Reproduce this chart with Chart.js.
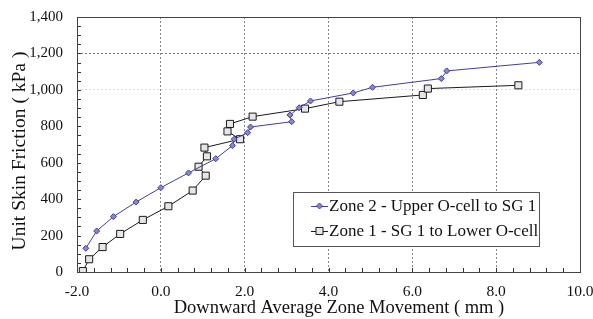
<!DOCTYPE html>
<html>
<head>
<meta charset="utf-8">
<script src="https://cdn.jsdelivr.net/npm/chart.js@4.4.1/dist/chart.umd.min.js"></script>
<style>
  html, body { margin: 0; padding: 0; background: #fff; }
  #wrap { position: relative; width: 593px; height: 319px; }
</style>
</head>
<body>
<div id="wrap"><canvas id="chart" width="593" height="319"></canvas></div>
<script>
// data
const zone2X = [-1.79, -1.53, -1.13, -0.59, 0.0, 0.66, 1.31, 1.71, 1.75, 2.07, 2.14, 3.12, 3.08, 3.30, 3.57, 4.59, 5.05, 6.69, 6.82, 9.03];
const zone2Y = [130, 225, 304, 384, 463, 544, 622, 694, 729, 765, 796, 825, 862, 902, 939, 983, 1014, 1062, 1104, 1151];
const zone1X = [-1.86, -1.71, -1.39, -0.97, -0.43, 0.18, 0.76, 1.07, 0.90, 1.10, 1.04, 1.89, 1.59, 1.65, 2.19, 3.44, 4.26, 6.25, 6.37, 8.53];
const zone1Y = [5, 70, 137, 209, 286, 361, 447, 529, 578, 635, 683, 729, 772, 813, 853, 897, 935, 972, 1007, 1025];
const seriesNames = ['Zone 2 - Upper O-cell to SG 1', 'Zone 1 - SG 1 to Lower O-cell'];
const xTicks = [-2, 0, 2, 4, 6, 8, 10];
const yTicks = [0, 200, 400, 600, 800, 1000, 1200, 1400];
const xTitle = 'Downward Average Zone Movement ( mm )';
const yTitle = 'Unit Skin Friction ( kPa )';

const FONT = '"Liberation Serif", "Times New Roman", serif';
const xMinorStep = 0.4;
const yMinorStep = 50;

function toPoints(xs, ys) {
    return xs.map((v, i) => ({ x: v, y: ys[i] }));
}

// frame, minor ticks, axis titles, legend box
const decorPlugin = {
    id: 'decor',
    beforeDatasetsDraw(chart) {
        const { ctx, chartArea: a, scales: { x, y } } = chart;
        ctx.save();
        ctx.strokeStyle = '#333';
        ctx.lineWidth = 1;
        ctx.beginPath();
        for (let v = x.min; v <= x.max + 1e-6; v += xMinorStep) {
            const px = Math.round(x.getPixelForValue(v)) + 0.5;
            ctx.moveTo(px, a.bottom);
            ctx.lineTo(px, a.bottom - 4);
        }
        for (let v = y.min; v <= y.max + 1e-6; v += yMinorStep) {
            const py = Math.round(y.getPixelForValue(v)) + 0.5;
            ctx.moveTo(a.left, py);
            ctx.lineTo(a.left + 4, py);
        }
        ctx.stroke();
        ctx.strokeStyle = '#444';
        ctx.strokeRect(Math.round(a.left) + 0.5, Math.round(a.top) + 0.5,
            Math.round(a.right - a.left), Math.round(a.bottom - a.top));

        // axis titles are a little off the plot centre in the original
        ctx.fillStyle = '#111';
        ctx.font = '18.5px ' + FONT;
        ctx.textAlign = 'center';
        ctx.textBaseline = 'alphabetic';
        ctx.fillText(xTitle, 339, 313);

        ctx.font = '19.5px ' + FONT;
        ctx.translate(25, 151);
        ctx.rotate(-Math.PI / 2);
        ctx.fillText(yTitle, 0, 0);
        ctx.restore();
    },
    afterDatasetsDraw(chart) {
        const { ctx } = chart;
        const box = { x: 293, y: 192, w: 246, h: 54 };
        ctx.save();
        ctx.fillStyle = '#fff';
        ctx.fillRect(box.x, box.y, box.w, box.h);
        ctx.strokeStyle = '#555';
        ctx.lineWidth = 1;
        ctx.strokeRect(box.x + 0.5, box.y + 0.5, box.w, box.h);
        ctx.font = '17px ' + FONT;
        ctx.textBaseline = 'middle';
        chart.data.datasets.forEach((ds, i) => {
            const cy = box.y + 14 + i * 25;
            ctx.strokeStyle = ds.borderColor;
            ctx.lineWidth = 1;
            ctx.beginPath();
            ctx.moveTo(box.x + 18, cy + 0.5);
            ctx.lineTo(box.x + 35, cy + 0.5);
            ctx.stroke();
            const mx = box.x + 26.5;
            ctx.fillStyle = ds.pointBackgroundColor;
            ctx.beginPath();
            if (ds.pointStyle === 'rectRot') {
                const r = ds.pointRadius;
                ctx.moveTo(mx, cy - r); ctx.lineTo(mx + r, cy); ctx.lineTo(mx, cy + r); ctx.lineTo(mx - r, cy);
                ctx.closePath();
            } else {
                const s = ds.pointRadius * Math.SQRT1_2;
                ctx.rect(mx - s, cy - s, 2 * s, 2 * s);
            }
            ctx.fill();
            ctx.stroke();
            ctx.fillStyle = '#111';
            ctx.fillText(ds.label, box.x + 36, cy + 1);
        });
        ctx.restore();
    }
};

new Chart(document.getElementById('chart'), {
    type: 'scatter',
    data: {
        datasets: [
            {
                label: seriesNames[0],
                data: toPoints(zone2X, zone2Y),
                showLine: true,
                borderColor: '#3f3f9e',
                borderWidth: 1,
                pointStyle: 'rectRot',
                pointRadius: 3,
                pointBackgroundColor: '#8a86cc',
                pointBorderColor: '#3f3f9e',
                pointBorderWidth: 1
            },
            {
                label: seriesNames[1],
                data: toPoints(zone1X, zone1Y),
                showLine: true,
                borderColor: '#1a1a1a',
                borderWidth: 1,
                pointStyle: 'rect',
                pointRadius: 5,
                pointBackgroundColor: '#e6e6e6',
                pointBorderColor: '#1a1a1a',
                pointBorderWidth: 1
            }
        ]
    },
    options: {
        responsive: false,
        animation: false,
        layout: { padding: { left: 0, right: 13, top: 17, bottom: 0 } },
        plugins: { legend: { display: false }, tooltip: { enabled: false } },
        scales: {
            x: {
                type: 'linear',
                min: -2,
                max: 10,
                afterBuildTicks: (scale) => { scale.ticks = xTicks.map(v => ({ value: v })); },
                afterFit: (scale) => {
                    scale.height = 47;
                    scale.paddingLeft = 0;
                    scale.paddingRight = 0;
                },
                ticks: {
                    callback: (v) => Number(v).toFixed(1),
                    color: '#111',
                    font: { family: FONT, size: 15.5 },
                    padding: 11,
                    maxRotation: 0
                },
                grid: {
                    color: (c) => (c.tick && c.tick.value > -2 && c.tick.value < 10) ? '#888' : 'rgba(0,0,0,0)',
                    drawTicks: false
                },
                border: { display: false, dash: [2, 2] },
                title: { display: false }
            },
            y: {
                type: 'linear',
                min: 0,
                max: 1400,
                afterBuildTicks: (scale) => { scale.ticks = yTicks.map(v => ({ value: v })); },
                afterFit: (scale) => {
                    scale.width = 77;
                    scale.paddingTop = 0;
                    scale.paddingBottom = 0;
                },
                ticks: {
                    callback: (v) => Number(v).toLocaleString('en-US'),
                    color: '#111',
                    font: { family: FONT, size: 15 },
                    padding: 14
                },
                grid: {
                    color: (c) => {
                        if (!c.tick) return 'rgba(0,0,0,0)';
                        if (c.tick.value === 1200) return '#777';
                        if (c.tick.value === 1000) return '#ddd';
                        return 'rgba(0,0,0,0)';
                    },
                    drawTicks: false
                },
                border: { display: false, dash: [2, 2] },
                title: { display: false }
            }
        }
    },
    plugins: [decorPlugin]
});
</script>
</body>
</html>
